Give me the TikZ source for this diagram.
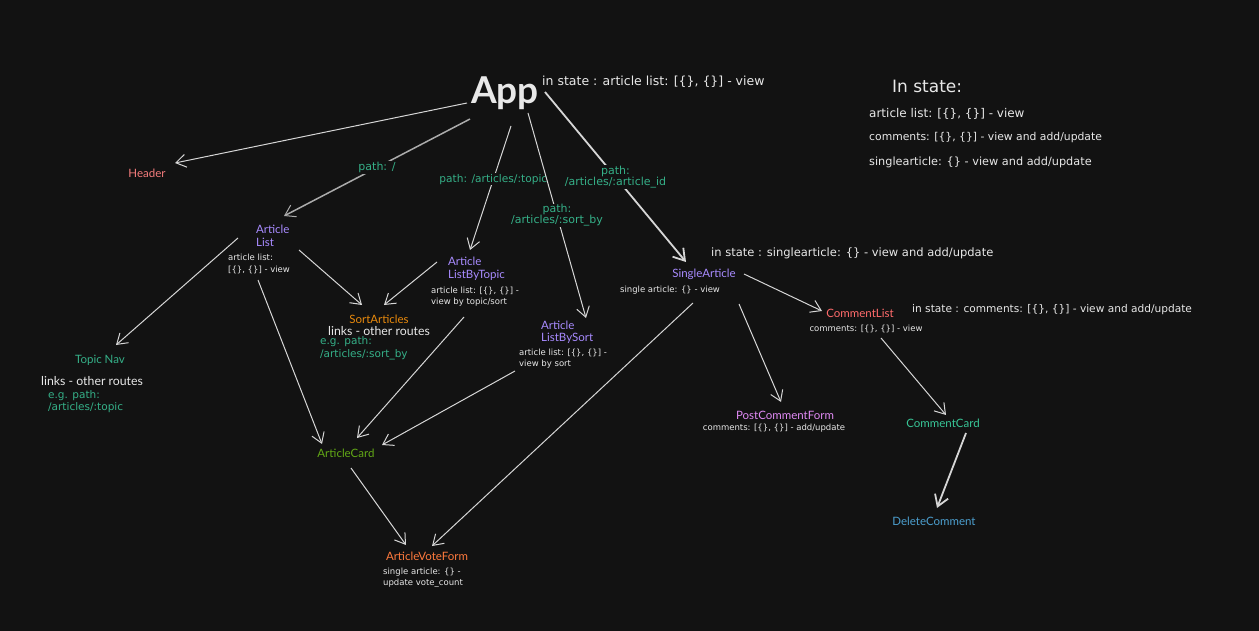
\documentclass[tikz,border=0pt]{standalone}
\usepackage{fontspec}
\setmainfont{Lato}
\newfontfamily\notefont{DejaVu Sans}
\usetikzlibrary{arrows.meta}
\definecolor{bg}{HTML}{121212}
\definecolor{ink}{HTML}{E8E8E8}
\definecolor{wire}{HTML}{D6D6D6}
\definecolor{pathgreen}{HTML}{35B088}
\definecolor{hdrred}{HTML}{F47C7C}
\definecolor{compurple}{HTML}{A88BFF}
\definecolor{sortorange}{HTML}{E8890C}
\definecolor{cardgreen}{HTML}{62A816}
\definecolor{voteorange}{HTML}{FF7A3D}
\definecolor{clred}{HTML}{FF6B6B}
\definecolor{pcfpink}{HTML}{E08AF4}
\definecolor{ccgreen}{HTML}{38C697}
\definecolor{dcblue}{HTML}{4C9FCF}
\begin{document}
\begin{tikzpicture}[x=1pt,y=-1pt,
  comp/.style={font=\fontsize{11.5}{12.5}\selectfont, inner sep=0pt, align=left},
  note/.style={text=ink, font=\notefont\fontsize{8.5}{11.5}\selectfont, inner sep=0pt, align=left},
  mid/.style={text=ink, font=\fontsize{12.3}{14}\selectfont, inner sep=0pt, align=left},
  statetxt/.style={text=ink, font=\notefont\fontsize{#1}{14}\selectfont, inner sep=0pt, anchor=west},
  eg/.style={text=pathgreen, font=\notefont\fontsize{10.5}{12.5}\selectfont, inner sep=0pt, align=left, anchor=west},
  pathlbl/.style={text=pathgreen, font=\notefont\fontsize{11}{13}\selectfont, fill=bg, inner sep=1pt, align=center},
  arr/.style={draw=wire, line width=1pt, -{Straight Barb[length=10pt,width=13pt,line width=1pt]}},
  heavy/.style={arr, line width=1.8pt, -{Straight Barb[length=11pt,width=14pt,line width=1.8pt]}}
]
\fill[bg] (0,0) rectangle (1259,631);
\useasboundingbox (0,0) rectangle (1259,631);

% root component and its state
\node[text=ink, font=\fontsize{37}{37}\selectfont\bfseries, inner sep=0pt] (app) at (505,93) {App};
\node[statetxt=12.5] (appstate) at (542,82) {in state : article list: [\{\}, \{\}] - view};

% state summary
\node[text=ink, font=\notefont\fontsize{17}{18}\selectfont, anchor=west, inner sep=0pt] (sumhead) at (892,86) {In state:};
\node[statetxt=12] (sum1) at (869,114) {article list: [\{\}, \{\}] - view};
\node[statetxt=10.8] (sum2) at (869,138) {comments: [\{\}, \{\}] - view and add/update};
\node[statetxt=11.3] (sum3) at (869,162) {singlearticle: \{\} - view and add/update};

% components
\node[comp, text=hdrred] (header) at (147,173) {Header};
\node[comp, text=compurple, anchor=west] (alist) at (256,236) {Article\\List};
\node[note, anchor=west] (alistn) at (228,264) {article list:\\{}[\{\}, \{\}] - view};
\node[comp, text=pathgreen] (topic) at (100,360) {Topic Nav};
\node[mid, anchor=west] (topicl) at (41,381) {links - other routes};
\node[eg] (topice) at (48,401.5) {e.g. path:\\/articles/:topic};
\node[comp, text=sortorange] (sort) at (379,319) {SortArticles};
\node[mid] (sortl) at (379,331.5) {links - other routes};
\node[eg] (sorte) at (320,348) {e.g. path:\\/articles/:sort\_by};
\node[comp, text=compurple, anchor=west] (lbt) at (448,269) {Article\\ListByTopic};
\node[note, anchor=west] (lbtn) at (431,296.5) {article list: [\{\}, \{\}] -\\view by topic/sort};
\node[comp, text=compurple, anchor=west] (lbs) at (541,332.5) {Article\\ListBySort};
\node[note, anchor=west] (lbsn) at (519,358.5) {article list: [\{\}, \{\}] -\\view by sort};
\node[comp, text=compurple] (sa) at (704,274) {SingleArticle};
\node[note] (san) at (670,290) {single article: \{\} - view};
\node[statetxt=11.5] (sastate) at (711,253) {in state : singlearticle: \{\} - view and add/update};
\node[comp, text=clred] (cl) at (860,313) {CommentList};
\node[statetxt=10.6] (clstate) at (912,310) {in state : comments: [\{\}, \{\}] - view and add/update};
\node[note] (cln) at (866,329) {comments: [\{\}, \{\}] - view};
\node[comp, text=pcfpink] (pcf) at (785,415) {PostCommentForm};
\node[note] (pcfn) at (774,428) {comments: [\{\}, \{\}] - add/update};
\node[comp, text=ccgreen] (cc) at (943,423) {CommentCard};
\node[comp, text=dcblue] (dc) at (934,521) {DeleteComment};
\node[comp, text=cardgreen] (card) at (346,453) {ArticleCard};
\node[comp, text=voteorange] (vote) at (427,556) {ArticleVoteForm};
\node[note, anchor=west] (voten) at (383,578) {single article: \{\} -\\update vote\_count};

% routes from App
\draw[arr] ([shift={(-38,10)}]app.center) -- ([shift={(28,-10)}]header.center);
\draw[arr, line width=1.5pt, draw=wire!80!black] ([shift={(-35,26)}]app.center) -- node[pathlbl] (p1) {path: /} ([shift={(28,-20)}]alist.west);
\draw[arr] ([shift={(6,33)}]app.center) -- node[pathlbl, pos=0.43, font=\notefont\fontsize{10.6}{13}\selectfont] (p2) {path: /articles/:topic} ([shift={(22,-19)}]lbt.west);
\draw[arr] ([shift={(23,20)}]app.center) -- node[pathlbl, pos=0.5] (p3) {path:\\[-2pt]/articles/:sort\_by} ([shift={(45,-14.5)}]lbs.west);
\draw[heavy] ([shift={(40,-1)}]app.center) -- node[pathlbl, pos=0.5] (p4) {path:\\[-2pt]/articles/:article\_id} ([shift={(-18,-12)}]sa.center);

% article list children
\draw[arr] ([shift={(-18,2)}]alist.west) -- ([shift={(16,-15)}]topic.center);
\draw[arr] ([shift={(43,14)}]alist.west) -- ([shift={(-17,-14)}]sort.center);
\draw[arr] ([shift={(2,44)}]alist.west) -- ([shift={(-24,-9)}]card.center);
\draw[arr] ([shift={(-11,-7)}]lbt.west) -- ([shift={(5,-14)}]sort.center);
\draw[arr] ([shift={(16,48)}]lbt.west) -- ([shift={(11,-15)}]card.center);
\draw[arr] ([shift={(-26,38.5)}]lbs.west) -- ([shift={(36,-8)}]card.center);
\draw[arr] ([shift={(5,15)}]card.center) -- ([shift={(-21,-11)}]vote.center);

% single article children
\draw[arr] ([shift={(-11,29)}]sa.center) -- ([shift={(5,-10)}]vote.center);
\draw[arr] ([shift={(40,0)}]sa.center) -- ([shift={(-38,-2)}]cl.center);
\draw[arr] ([shift={(35,30)}]sa.center) -- ([shift={(-4,-13)}]pcf.center);
\draw[arr] ([shift={(21,25)}]cl.center) -- ([shift={(3,-8)}]cc.center);
\draw[heavy] ([shift={(23,10)}]cc.center) -- ([shift={(3,-13)}]dc.center);
\end{tikzpicture}
\end{document}
